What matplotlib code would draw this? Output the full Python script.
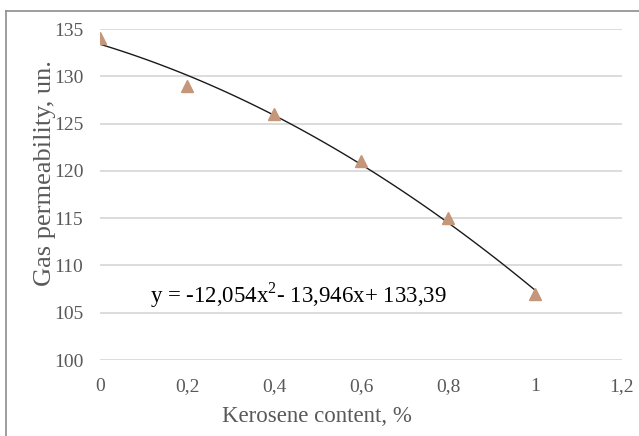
import matplotlib
matplotlib.use("Agg")
import matplotlib.pyplot as plt
import numpy as np
from matplotlib.lines import Line2D

kerosene = [0, 0.2, 0.4, 0.6, 0.8, 1.0]
permeability = [134, 129, 126, 121, 115, 107]
trend_coeffs = [-12.054, -13.946, 133.39]
x_ticks = [0, 0.2, 0.4, 0.6, 0.8, 1.0, 1.2]
x_tick_labels = ["0", "0,2", "0,4", "0,6", "0,8", "1", "1,2"]
y_ticks = [100, 105, 110, 115, 120, 125, 130, 135]
equation = "y = -12,054x$^2$- 13,946x+ 133,39"

plt.rcParams['font.family'] = ['Liberation Serif', 'DejaVu Serif']
plt.rcParams['mathtext.fontset'] = 'custom'
plt.rcParams['mathtext.rm'] = 'Liberation Serif'

W, H = 639, 436
fig = plt.figure(figsize=(W / 100, H / 100), dpi=100)
ax = fig.add_axes([100 / W, 1 - 360 / H, (622 - 100) / W, (360 - 29) / H])

ax.set_xlim(0, 1.2)
ax.set_ylim(100, 135)
ax.set_xticks(x_ticks)
ax.set_xticklabels(x_tick_labels)
ax.set_yticks(y_ticks)
ax.grid(axis='y', color='#d9d9d9', linewidth=1.3)
ax.set_axisbelow(True)
for s in ax.spines.values():
    s.set_visible(False)
ax.tick_params(length=0, labelsize=14, colors='#595959', pad=12)
ax.tick_params(axis='x', pad=13)

xs = np.linspace(kerosene[0], kerosene[-1], 100)
ax.plot(xs, np.polyval(trend_coeffs, xs), color='#1a1a1a', linewidth=1.0, zorder=2)
ax.plot(kerosene, permeability, linestyle='none', marker='^', markersize=9,
        color='#c4977a', zorder=3)

ax.text(0.115, 106.9, equation, fontsize=16.5, color='black', va='center', ha='left')

ax.set_xlabel("Kerosene content, %", fontsize=16.5, color='#595959')
ax.xaxis.set_label_coords(0.416, -0.138)
ax.set_ylabel("Gas permeability, un.", fontsize=19, color='#595959')
ax.yaxis.set_label_coords(-44 / 522, 0.566)

fig.add_artist(Line2D([6 / W, 6 / W], [0, 1 - 11 / H], color='#8c8c8c', linewidth=1.2, transform=fig.transFigure))
fig.add_artist(Line2D([6 / W, 1], [1 - 11 / H, 1 - 11 / H], color='#8c8c8c', linewidth=1.2, transform=fig.transFigure))

fig.savefig("out.png", dpi=100)
